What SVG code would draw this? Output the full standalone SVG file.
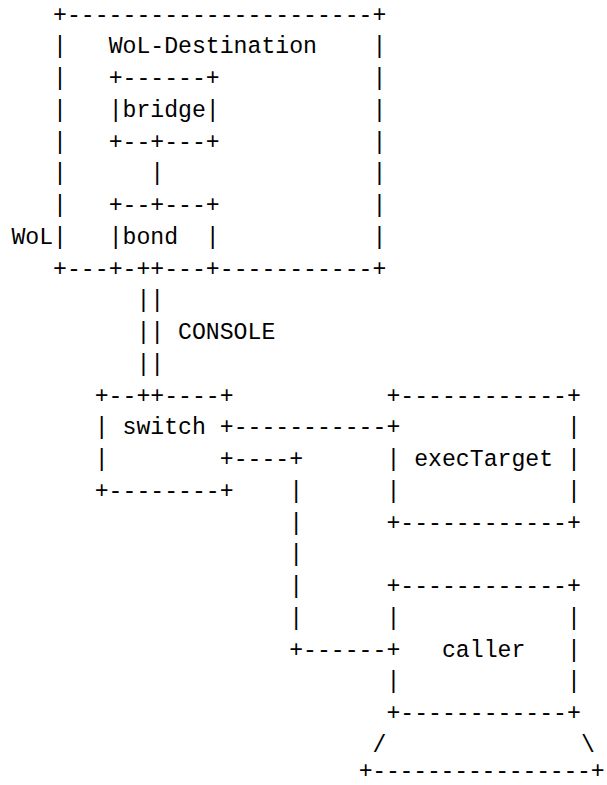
<svg xmlns="http://www.w3.org/2000/svg" width="607" height="785" viewBox="0 0 607 785" xml:space="preserve">
<style>
text { font-family: "Liberation Mono", "DejaVu Sans Mono", monospace; font-size: 23.15px; fill: #000; white-space: pre; }
</style>
<rect x="0" y="0" width="607" height="785" fill="#fff"/>
<g id="wol-destination">
<text x="53.07" y="21.5">+----------------------+</text>
<text x="53.07" y="53.26">|</text><text x="108.63" y="53.26">WoL-Destination</text><text x="372.54" y="53.26">|</text>
<text x="53.07" y="85.02">|</text><text x="372.54" y="85.02">|</text>
<text x="53.07" y="116.78">|</text><text x="372.54" y="116.78">|</text>
<text x="53.07" y="148.54">|</text><text x="372.54" y="148.54">|</text>
<text x="53.07" y="180.30">|</text><text x="372.54" y="180.30">|</text>
<text x="53.07" y="212.06">|</text><text x="372.54" y="212.06">|</text>
<text x="53.07" y="243.82">|</text><text x="372.54" y="243.82">|</text>
<text x="53.07" y="275.58">+---</text><text x="219.75" y="275.58">-----------+</text>
</g>
<g id="bridge">
<text x="108.63" y="85.02">+------+</text>
<text x="108.63" y="116.78">|bridge|</text>
<text x="108.63" y="148.54">+--+---+</text>
</g>
<g id="bond">
<text x="108.63" y="212.06">+--+---+</text>
<text x="108.63" y="243.82">|bond  |</text>
<text x="108.63" y="275.58">+-++---+</text>
</g>
<g id="switch">
<text x="94.74" y="402.62">+--++----+</text>
<text x="94.74" y="434.38">| switch +</text>
<text x="94.74" y="466.14">|</text><text x="219.75" y="466.14">+</text>
<text x="94.74" y="497.90">+--------+</text>
</g>
<g id="execTarget">
<text x="386.43" y="402.62">+------------+</text>
<text x="567.00" y="434.38">|</text>
<text x="386.43" y="466.14">|</text><text x="414.21" y="466.14">execTarget</text><text x="567.00" y="466.14">|</text>
<text x="386.43" y="497.90">|</text><text x="567.00" y="497.90">|</text>
<text x="386.43" y="529.66">+------------+</text>
</g>
<g id="caller">
<text x="386.43" y="593.18">+------------+</text>
<text x="386.43" y="624.94">|</text><text x="567.00" y="624.94">|</text>
<text x="441.99" y="656.70">caller</text><text x="567.00" y="656.70">|</text>
<text x="386.43" y="688.46">|</text><text x="567.00" y="688.46">|</text>
<text x="386.43" y="720.22">+------------+</text>
<text x="372.54" y="751.98">/</text><text x="580.89" y="751.98">\</text>
<text x="358.65" y="778" textLength="246" lengthAdjust="spacing">+----------------+</text>
</g>
<g id="wol-label">
<text x="11.40" y="243.82">WoL</text>
</g>
<g id="connectors">
<text x="150.30" y="180.30">|</text>
<text x="136.41" y="307.34">||</text>
<text x="136.41" y="339.10">|| CONSOLE</text>
<text x="136.41" y="370.86">||</text>
<text x="233.64" y="434.38">-----------+</text>
<text x="233.64" y="466.14">----+</text>
<text x="289.20" y="497.90">|</text>
<text x="289.20" y="529.66">|</text>
<text x="289.20" y="561.42">|</text>
<text x="289.20" y="593.18">|</text>
<text x="289.20" y="624.94">|</text>
<text x="289.20" y="656.70">+------+</text>
</g>
</svg>
